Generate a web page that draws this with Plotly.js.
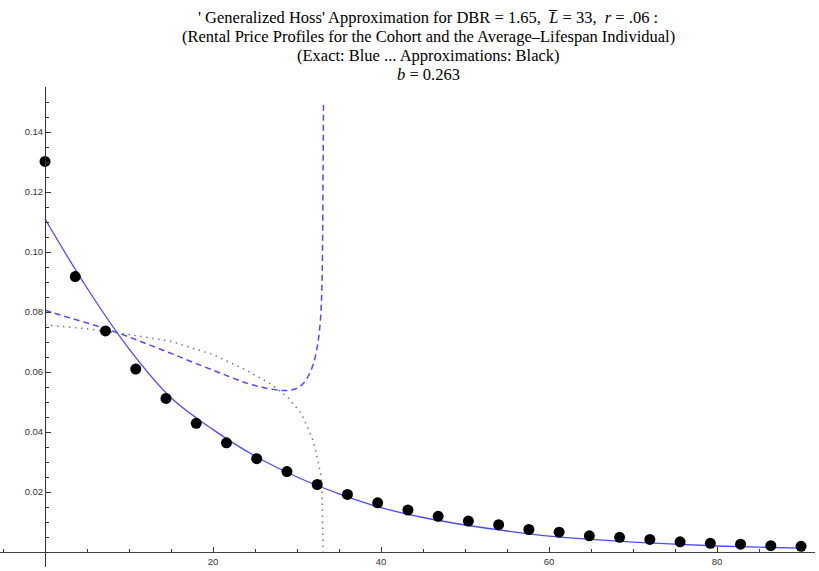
<!DOCTYPE html>
<html>
<head>
<meta charset="utf-8">
<script src="https://cdn.plot.ly/plotly-3.0.1.min.js"></script>
<style>html,body{margin:0;padding:0;background:#fff;}#chart{width:819px;height:571px;}</style>
</head>
<body>
<div id="chart"></div>
<script>
// Exact cohort rental price profile (solid blue)
const exactX = [0,5,10,15,20,25,30,35,40,45,50,55,60,65,70,75,80,85,90];
const exactY = [0.1110,0.0880,0.0677,0.0514,0.0408,0.0320,0.0250,0.0194,0.0148,0.0115,0.0090,0.0070,0.0053,0.0042,0.0033,0.0026,0.0020,0.0016,0.0013];

// Exact average-lifespan individual profile (dashed blue)
const indivX = [0,3,6,9,12,15,18,21,24,26,28,29,30,30.8,31.5,32.0,32.5,32.8,32.95,33.03,33.08,33.12,33.15];
const indivY = [0.0806,0.0780,0.0755,0.0727,0.0695,0.0662,0.0628,0.0595,0.0563,0.0548,0.0539,0.0539,0.0546,0.0563,0.0596,0.0632,0.0700,0.0780,0.0873,0.1000,0.1200,0.1350,0.1500];

// Approximation for the individual (dotted gray)
const approxIndX = [0,5,10,15,20,24,27,29,30.5,31.2,31.8,32.2,32.6,32.85,33.0,33.08,33.1];
const approxIndY = [0.0757,0.0744,0.0725,0.0702,0.0658,0.0606,0.0558,0.0512,0.0462,0.0418,0.0380,0.0340,0.0290,0.0255,0.0162,0.0060,0.0];

// Approximation for the cohort (black dots)
const approxCohX = [0,3.6,7.2,10.8,14.4,18,21.6,25.2,28.8,32.4,36,39.6,43.2,46.8,50.4,54,57.6,61.2,64.8,68.4,72,75.6,79.2,82.8,86.4,90];
const approxCohY = [0.1302,0.0918,0.0737,0.0610,0.0512,0.0429,0.0364,0.0311,0.0268,0.0225,0.0192,0.0164,0.0140,0.0119,0.0103,0.0091,0.0075,0.0066,0.0054,0.0049,0.0042,0.0034,0.0029,0.0026,0.0021,0.0019];

const xTicks = [20,40,60,80];
const yTicks = [0.02,0.04,0.06,0.08,0.10,0.12,0.14];
const yTickText = ['0.02','0.04','0.06','0.08','0.10','0.12','0.14'];

const titleLines = [
  "' Generalized Hoss' Approximation for DBR = 1.65,&nbsp; <i>L\u0305</i> = 33,&nbsp; <i>r</i> = .06 :",
  "(Rental Price Profiles for the Cohort and the Average\u2013Lifespan Individual)",
  "(Exact: Blue ... Approximations: Black)",
  "<i>b</i> = 0.263"
];

const xRange = [-5.36, 91.66];
const yRange = [-0.005, 0.155];

const traces = [
  {x: approxIndX, y: approxIndY, mode:'lines', line:{color:'#7a7a7a', width:1.5, dash:'1.5px,4.5px'}, hoverinfo:'skip'},
  {x: indivX, y: indivY, mode:'lines', line:{color:'#4b4bff', width:1.5, dash:'6px,4px', shape:'spline'}, hoverinfo:'skip'},
  {x: exactX, y: exactY, mode:'lines', line:{color:'#4b4bff', width:1.3, shape:'spline'}, hoverinfo:'skip'},
  {x: approxCohX, y: approxCohY, mode:'markers', marker:{color:'#000', size:11}, hoverinfo:'skip'}
];

const tickFont = {family:'Liberation Sans, Arial, sans-serif', size:9.5, color:'#333'};
const titleFont = {family:'Liberation Serif, Times New Roman, serif', size:16.5, color:'#000'};

// layout geometry (pixels)
const W = 819, H = 571, mL = 0, mR = 4, mT = 87, mB = 4;
const plotW = W - mL - mR, plotH = H - mT - mB;
const lineCentersPx = [17, 37, 56, 74];
const titleCenterPx = 428;

const annotations = titleLines.map((t, i) => ({
  text: t, showarrow:false, font:titleFont,
  xref:'paper', yref:'paper',
  x:(titleCenterPx - mL)/plotW, xanchor:'center',
  y:1 + (mT - lineCentersPx[i])/plotH, yanchor:'middle'
}));

const layout = {
  width:W, height:H,
  margin:{l:mL, r:mR, t:mT, b:mB},
  paper_bgcolor:'#fff', plot_bgcolor:'#fff',
  showlegend:false,
  annotations: annotations,
  xaxis:{
    range:xRange, anchor:'free', position:(0-yRange[0])/(yRange[1]-yRange[0]),
    showgrid:false, zeroline:false, showline:true, linecolor:'#444', linewidth:1.2,
    tickmode:'array', tickvals:xTicks, ticktext:xTicks.map(String),
    ticks:'inside', ticklen:5, tickwidth:1, tickcolor:'#333',
    minor:{dtick:5, tick0:0, ticks:'inside', ticklen:3, tickwidth:1, tickcolor:'#333'},
    tickfont:tickFont
  },
  yaxis:{
    range:yRange, anchor:'free', position:(0-xRange[0])/(xRange[1]-xRange[0]),
    showgrid:false, zeroline:false, showline:true, linecolor:'#333', linewidth:1.2,
    tickmode:'array', tickvals:yTicks, ticktext:yTickText,
    ticks:'inside', ticklen:5, tickwidth:1, tickcolor:'#333',
    minor:{dtick:0.005, tick0:0, ticks:'inside', ticklen:3, tickwidth:1, tickcolor:'#333'},
    tickfont:tickFont
  }
};

Plotly.newPlot('chart', traces, layout, {displayModeBar:false, staticPlot:true});
</script>
</body>
</html>
